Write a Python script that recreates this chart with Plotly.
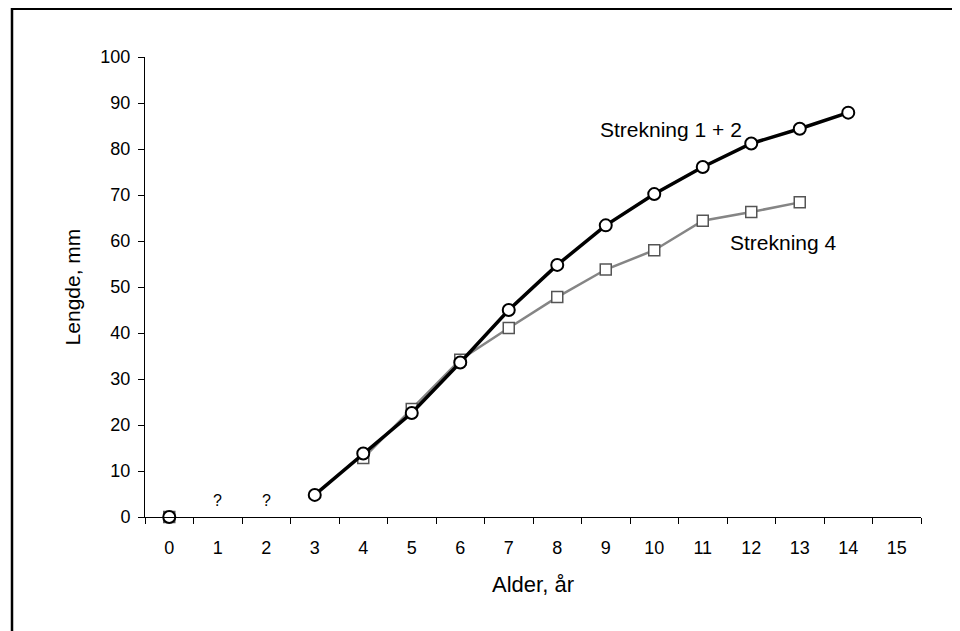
import plotly.graph_objects as go

# Data
ages = list(range(16))
strekning_12 = [0, None, None, 4.8, 13.8, 22.6, 33.6, 45.0, 54.8, 63.4, 70.2, 76.1, 81.2, 84.4, 87.9, None]
strekning_4 = [0, None, None, None, 12.8, 23.5, 34.2, 41.1, 47.8, 53.8, 58.0, 64.4, 66.3, 68.4, None, None]
unknown_ages = [1, 2]
unknown_y = [3.6, 3.6]
y_ticks = list(range(0, 101, 10))

FONT = "Liberation Sans, Arial, sans-serif"

fig = go.Figure()

fig.add_trace(go.Scatter(
    x=ages, y=strekning_4, mode="lines+markers", connectgaps=False, cliponaxis=False,
    line=dict(color="#858585", width=2.5),
    marker=dict(symbol="square", size=11, color="white",
                line=dict(color="#555555", width=1.5)),
    name="Strekning 4", showlegend=False))

fig.add_trace(go.Scatter(
    x=ages, y=strekning_12, mode="lines+markers", connectgaps=False, cliponaxis=False,
    line=dict(color="black", width=3.5),
    marker=dict(symbol="circle", size=12, color="white",
                line=dict(color="black", width=2)),
    name="Strekning 1 + 2", showlegend=False))

annotations = [
    dict(x=8.85, y=84.3, text="Strekning 1 + 2", showarrow=False,
         xanchor="left", yanchor="middle", font=dict(size=21, color="black", family=FONT)),
    dict(x=11.53, y=59.6, text="Strekning 4", showarrow=False,
         xanchor="left", yanchor="middle", font=dict(size=21, color="black", family=FONT)),
]
for xa, ya in zip(unknown_ages, unknown_y):
    annotations.append(dict(x=xa, y=ya, text="?", showarrow=False,
                            xanchor="center", yanchor="middle",
                            font=dict(size=16, color="black", family=FONT)))

# Page is rendered with an 8px body margin; compensate so the plot area
# lands at page x 145..921, y 57..517.
OFF = 8
W, H = 960, 631
L, R, T, B = 145 - OFF, W - (921 - OFF), 57 - OFF, H - (517 - OFF)
pw, ph = W - L - R, H - T - B
def px(xp): return (xp - OFF - L) / pw
def py(yp): return (H - B - (yp - OFF)) / ph

shapes = [
    dict(type="line", xref="paper", yref="paper", x0=px(11), x1=px(972), y0=py(9), y1=py(9),
         line=dict(color="black", width=2)),
    dict(type="line", xref="paper", yref="paper", x0=px(12), x1=px(12), y0=py(8), y1=py(645),
         line=dict(color="black", width=2.5)),
]

fig.update_layout(
    width=W, height=H,
    margin=dict(l=L, r=R, t=T, b=B, autoexpand=False),
    plot_bgcolor="white", paper_bgcolor="white",
    font=dict(family=FONT, color="black"),
    annotations=annotations, shapes=shapes,
    xaxis=dict(
        range=[-0.5, 15.5], tickvals=ages, ticktext=[str(a) for a in ages],
        ticks="", showgrid=False, zeroline=False, automargin=False,
        showline=True, linecolor="black", linewidth=1,
        tickfont=dict(size=18), ticklabelstandoff=14,
        minor=dict(tickvals=[a - 0.5 for a in ages] + [ages[-1] + 0.5],
                   ticks="outside", ticklen=6, tickcolor="black", tickwidth=1, showgrid=False),
        title=dict(text="Alder, år", font=dict(size=22), standoff=20),
    ),
    yaxis=dict(
        range=[0, 100], tickvals=y_ticks, ticks="outside", ticklen=6,
        tickcolor="black", showgrid=False, zeroline=False, automargin=False,
        showline=True, linecolor="black", linewidth=1,
        tickfont=dict(size=18), ticklabelstandoff=4,
        title=dict(text="Lengde, mm", font=dict(size=21), standoff=14),
    ),
)

fig.write_html("out.html")
